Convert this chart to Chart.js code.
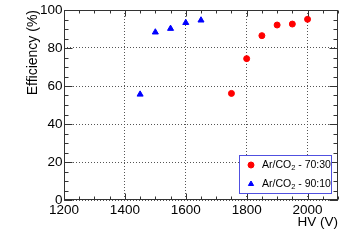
<!DOCTYPE html>
<html>
<head>
<meta charset="utf-8">
<script src="https://cdn.jsdelivr.net/npm/chart.js@4"></script>
<style>
  body { margin: 0; background: #fff; }
  #myChart { display: block; }
</style>
</head>
<body>
<canvas id="myChart" width="360" height="245"></canvas>
<script>
// data
const hv7030 = [1750, 1800, 1850, 1900, 1950, 2000];
const eff7030 = [56.1, 74.4, 86.5, 92.1, 92.6, 95.1];
const hv9010 = [1450, 1500, 1550, 1600, 1650];
const eff9010 = [55.6, 88.3, 90.2, 93.3, 94.6];
const xTicks = [1200, 1400, 1600, 1800, 2000];
const yTicks = [0, 20, 40, 60, 80, 100];
const legendLabels = [['Ar/CO', '2', ' - 70:30'], ['Ar/CO', '2', ' - 90:10']];

const FONT = "'Liberation Sans', Arial, sans-serif";
const ctx = document.getElementById('myChart');

const toPoints = (xs, ys) => xs.map((x, i) => ({x: x, y: ys[i]}));

// ROOT style frame with inside ticks on all four sides
const framePlugin = {
    id: 'frame',
    afterDraw: (chart) => {
        const c = chart.ctx;
        const xs = chart.scales.x;
        const ys = chart.scales.y;
        const a = chart.chartArea;
        const L = Math.round(a.left) + 0.5, R = Math.round(a.right) - 0.5;
        const T = Math.round(a.top) + 0.5, B = Math.round(a.bottom) - 0.5;
        c.save();
        c.strokeStyle = '#333';
        c.lineWidth = 1;
        c.beginPath();
        for (let v = 1200; v <= 2100; v += 50) {
            const px = Math.round(xs.getPixelForValue(v)) + 0.5;
            const len = v % 200 === 0 ? 6 : 3;
            c.moveTo(px, B); c.lineTo(px, B - len);
            c.moveTo(px, T); c.lineTo(px, T + len);
        }
        for (let v = 0; v <= 100; v += 5) {
            const py = Math.round(ys.getPixelForValue(v)) + 0.5;
            const len = v % 20 === 0 ? 8 : 4;
            c.moveTo(L, py); c.lineTo(L + len, py);
            c.moveTo(R, py); c.lineTo(R - len, py);
        }
        c.stroke();
        c.strokeRect(L, T, R - L, B - T);
        c.restore();
    }
};

const legendPlugin = {
    id: 'rootLegend',
    afterDraw: (chart) => {
        const c = chart.ctx;
        c.save();
        c.fillStyle = '#fff';
        c.fillRect(239.5, 155.5, 92, 38);
        c.strokeStyle = '#5050e0';
        c.lineWidth = 1;
        c.strokeRect(239.5, 155.5, 92, 38);
        const rows = [165, 184];
        chart.data.datasets.forEach((ds, i) => {
            const y = rows[i];
            c.fillStyle = ds.backgroundColor;
            c.strokeStyle = ds.borderColor;
            Chart.helpers.drawPoint(c, {pointStyle: ds.pointStyle, radius: 3, borderWidth: 1}, 251, y);
            c.fillStyle = '#000';
            c.textBaseline = 'middle';
            let x = 262;
            const parts = legendLabels[i];
            c.font = '10.5px ' + FONT;
            c.fillText(parts[0], x, y);
            x += c.measureText(parts[0]).width;
            c.font = '7.5px ' + FONT;
            c.fillText(parts[1], x, y + 3);
            x += c.measureText(parts[1]).width;
            c.font = '10.5px ' + FONT;
            c.fillText(parts[2], x, y);
        });
        c.restore();
    }
};

new Chart(ctx, {
    type: 'scatter',
    data: {
        datasets: [{
            label: 'Ar/CO2 - 70:30',
            data: toPoints(hv7030, eff7030),
            pointStyle: 'circle',
            pointRadius: 3,
            backgroundColor: '#ff0000',
            borderColor: '#ff0000',
            borderWidth: 1
        }, {
            label: 'Ar/CO2 - 90:10',
            data: toPoints(hv9010, eff9010),
            pointStyle: 'triangle',
            pointRadius: 3.5,
            backgroundColor: '#0000ff',
            borderColor: '#0000ff',
            borderWidth: 1
        }]
    },
    options: {
        responsive: false,
        animation: false,
        devicePixelRatio: 1,
        layout: { padding: { left: 0, right: 22, top: 10, bottom: 0 } },
        plugins: {
            legend: { display: false },
            tooltip: { enabled: false }
        },
        scales: {
            x: {
                type: 'linear',
                min: 1200,
                max: 2100,
                afterBuildTicks: (scale) => {
                    scale.ticks = xTicks.map(v => ({value: v}));
                },
                afterFit: (scale) => { scale.height = 45; },
                ticks: {
                    color: '#000', padding: 2, maxRotation: 0,
                    font: { family: FONT, size: 13.5 },
                    callback: (v) => String(v)
                },
                grid: { color: '#555', lineWidth: 1, drawTicks: false },
                border: { display: false, dash: [1, 2] },
                title: {
                    display: true,
                    text: 'HV (V)',
                    align: 'end',
                    color: '#000',
                    font: { family: FONT, size: 13.5 },
                    padding: { top: 0, bottom: 15 }
                }
            },
            y: {
                type: 'linear',
                min: 0,
                max: 100,
                afterBuildTicks: (scale) => {
                    scale.ticks = yTicks.map(v => ({value: v}));
                },
                afterFit: (scale) => { scale.width = 64; },
                ticks: {
                    color: '#000', padding: 1.5,
                    font: { family: FONT, size: 13.5 },
                    callback: (v) => String(v)
                },
                grid: { color: '#555', lineWidth: 1, drawTicks: false },
                border: { display: false, dash: [1, 2] },
                title: {
                    display: true,
                    text: 'Efficiency (%)',
                    align: 'end',
                    color: '#000',
                    font: { family: FONT, size: 14 },
                    padding: { top: 25, bottom: 0 }
                }
            }
        }
    },
    plugins: [framePlugin, legendPlugin]
});
</script>
</body>
</html>
